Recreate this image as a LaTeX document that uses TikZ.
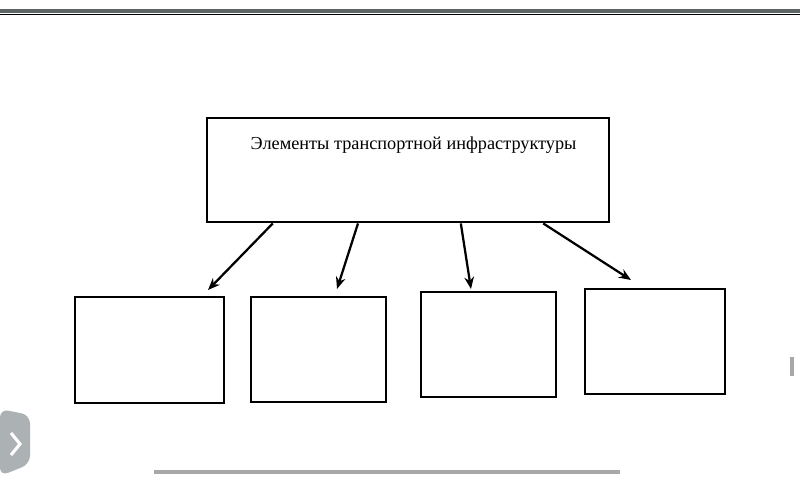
\documentclass[tikz,border=0pt]{standalone}
\usepackage{fontspec}
\setmainfont{Liberation Serif}
\usetikzlibrary{arrows.meta, positioning}
\definecolor{bandgray}{RGB}{95,100,100}
\definecolor{tabgray}{RGB}{172,177,180}
\definecolor{bargray}{RGB}{168,168,168}

\begin{document}
\begin{tikzpicture}[
  x=0.025cm, y=-0.025cm,
  box/.style = {draw, line width=2pt, inner sep=0pt},
  arrow/.style = {-{Stealth[length=3mm, width=2.4mm]}, line width=1.6pt},
  font=\fontsize{13}{16}\selectfont
]
\useasboundingbox (0,0) rectangle (800,480);
\fill[white] (0,0) rectangle (800,480);

% Screen edges
\fill[bandgray] (0,9) rectangle (800,13);
\draw[line width=0.9pt] (0,14.2) -- (800,14.2);
\fill[tabgray, rounded corners=6pt] (0,409) -- (30,415) -- (30,464) -- (0,476) -- cycle;
\draw[white, line width=2.2pt] (11,433) -- (20,444) -- (11,455);
\fill[bargray] (790,357) rectangle (794,376);
\fill[bargray] (154,470) rectangle (620,474);

% Main box
\node[box, minimum width=10.05cm, minimum height=2.6cm] (main) at (408,170) {};
\node[below=0.5cm of main.north, xshift=0.14cm, inner sep=0pt] (title) {Элементы транспортной инфраструктуры};

% Lower boxes
\node[box, minimum width=3.72cm, minimum height=2.65cm] (b1) at (149.5,350) {};
\node[box, minimum width=3.37cm, minimum height=2.62cm] (b2) at (318.5,349.5) {};
\node[box, minimum width=3.37cm, minimum height=2.62cm] (b3) at (488.5,344.5) {};
\node[box, minimum width=3.5cm, minimum height=2.62cm] (b4) at (655,341.5) {};

% Arrow tips
\coordinate (t1) at (208,290);
\coordinate (t2) at (337,289);
\coordinate (t3) at (471,289);
\coordinate (t4) at (631,280);

% Arrows
\draw[arrow] ([xshift=-3.38cm]main.south) -- (t1);
\draw[arrow] ([xshift=-1.25cm]main.south) -- (t2);
\draw[arrow] ([xshift=1.32cm]main.south) -- (t3);
\draw[arrow] ([xshift=3.38cm]main.south) -- (t4);
\end{tikzpicture}
\end{document}
